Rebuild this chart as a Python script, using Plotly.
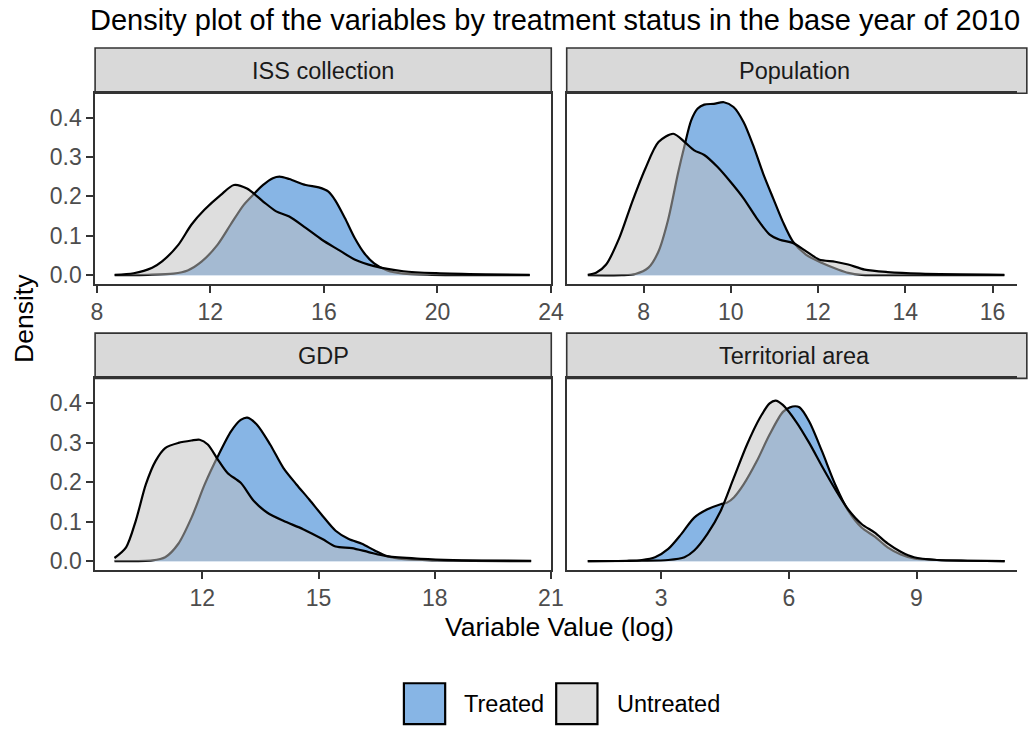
import plotly.graph_objects as go

W, H = 1030, 733

# ---------------- data ----------------
panels = ["ISS collection", "Population", "GDP", "Territorial area"]

iss_treated_x = [8.63, 9.8, 10.7, 11.2, 11.7, 12.25, 12.71, 13.17, 13.52, 13.86, 14.2, 14.44, 14.78, 15.36, 15.82, 16.16, 16.4, 16.74, 17.08, 17.43, 17.77, 18.23, 18.8, 19.8, 21.0, 23.25]
iss_treated_y = [0.0, 0.001, 0.004, 0.012, 0.035, 0.077, 0.128, 0.178, 0.205, 0.229, 0.246, 0.250, 0.244, 0.229, 0.223, 0.212, 0.19, 0.145, 0.095, 0.055, 0.03, 0.012, 0.004, 0.001, 0.0, 0.0]
iss_untreated_x = [8.63, 9.3, 9.95, 10.3, 10.87, 11.33, 11.79, 12.37, 12.83, 13.29, 13.86, 14.32, 14.78, 15.36, 15.93, 16.5, 17.08, 17.77, 18.8, 19.95, 21.7, 23.25]
iss_untreated_y = [0.001, 0.005, 0.019, 0.035, 0.077, 0.128, 0.166, 0.204, 0.229, 0.22, 0.187, 0.162, 0.149, 0.12, 0.09, 0.065, 0.04, 0.023, 0.01, 0.005, 0.002, 0.001]

pop_treated_x = [6.72, 7.5, 7.81, 8.11, 8.34, 8.56, 8.79, 8.94, 9.09, 9.24, 9.39, 9.61, 9.84, 10.06, 10.29, 10.51, 10.74, 10.97, 11.19, 11.42, 11.72, 12.09, 12.47, 12.69, 13.0, 14.0, 16.27]
pop_treated_y = [0.0, 0.0, 0.003, 0.019, 0.06, 0.14, 0.26, 0.33, 0.393, 0.423, 0.433, 0.435, 0.439, 0.427, 0.389, 0.33, 0.258, 0.195, 0.136, 0.086, 0.052, 0.031, 0.014, 0.006, 0.001, 0.0, 0.0]
pop_untreated_x = [6.72, 6.91, 7.14, 7.44, 7.74, 8.04, 8.34, 8.68, 8.94, 9.16, 9.39, 9.69, 9.99, 10.29, 10.59, 10.89, 11.12, 11.42, 11.72, 12.02, 12.39, 12.69, 13.07, 13.59, 14.34, 16.27]
pop_untreated_y = [0.001, 0.006, 0.027, 0.094, 0.187, 0.271, 0.338, 0.359, 0.338, 0.317, 0.305, 0.275, 0.237, 0.195, 0.145, 0.103, 0.09, 0.082, 0.061, 0.04, 0.034, 0.027, 0.014, 0.008, 0.004, 0.001]

gdp_treated_x = [9.73, 10.71, 11.04, 11.38, 11.72, 12.06, 12.4, 12.74, 12.99, 13.16, 13.41, 13.75, 14.09, 14.43, 14.76, 15.1, 15.44, 15.78, 16.12, 16.45, 16.79, 17.22, 18.06, 20.49]
gdp_treated_y = [0.0, 0.002, 0.01, 0.044, 0.11, 0.194, 0.265, 0.328, 0.357, 0.363, 0.345, 0.295, 0.236, 0.194, 0.156, 0.115, 0.077, 0.056, 0.044, 0.027, 0.012, 0.005, 0.002, 0.0]
gdp_untreated_x = [9.73, 10.03, 10.28, 10.54, 10.79, 11.04, 11.38, 11.72, 11.93, 12.14, 12.4, 12.65, 12.99, 13.33, 13.67, 14.09, 14.6, 15.1, 15.44, 15.86, 16.29, 16.79, 17.64, 18.48, 20.49]
gdp_untreated_y = [0.008, 0.035, 0.102, 0.194, 0.253, 0.286, 0.299, 0.305, 0.307, 0.295, 0.257, 0.223, 0.198, 0.152, 0.123, 0.102, 0.081, 0.056, 0.037, 0.033, 0.023, 0.012, 0.006, 0.003, 0.001]

area_treated_x = [1.28, 2.2, 2.55, 2.86, 3.17, 3.48, 3.78, 4.09, 4.4, 4.55, 4.71, 4.94, 5.25, 5.55, 5.87, 6.09, 6.25, 6.48, 6.78, 7.09, 7.4, 7.71, 8.02, 8.32, 8.63, 8.94, 9.48, 10.2, 11.07]
area_treated_y = [0.0, 0.001, 0.003, 0.01, 0.031, 0.069, 0.11, 0.131, 0.144, 0.148, 0.161, 0.194, 0.253, 0.32, 0.378, 0.391, 0.389, 0.353, 0.278, 0.194, 0.127, 0.085, 0.062, 0.035, 0.017, 0.007, 0.003, 0.001, 0.0]
area_untreated_x = [1.28, 2.55, 3.17, 3.55, 3.78, 4.09, 4.4, 4.71, 5.02, 5.32, 5.55, 5.69, 5.86, 6.17, 6.48, 6.78, 7.09, 7.4, 7.71, 8.02, 8.32, 8.63, 8.94, 9.48, 10.2, 11.07]
area_untreated_y = [0.0, 0.001, 0.003, 0.01, 0.027, 0.069, 0.127, 0.211, 0.295, 0.362, 0.399, 0.406, 0.395, 0.353, 0.299, 0.24, 0.182, 0.13, 0.094, 0.072, 0.045, 0.024, 0.01, 0.003, 0.001, 0.0]

x_ticks = [[8, 12, 16, 20, 24], [8, 10, 12, 14, 16], [12, 15, 18, 21], [3, 6, 9]]
y_ticks = [0.0, 0.1, 0.2, 0.3, 0.4]
y_tick_text = ["0.0", "0.1", "0.2", "0.3", "0.4"]

series = [
    (iss_treated_x, iss_treated_y, iss_untreated_x, iss_untreated_y),
    (pop_treated_x, pop_treated_y, pop_untreated_x, pop_untreated_y),
    (gdp_treated_x, gdp_treated_y, gdp_untreated_x, gdp_untreated_y),
    (area_treated_x, area_treated_y, area_untreated_x, area_untreated_y),
]

# ---------------- styling / layout ----------------
FONT = "Liberation Sans, Arial, sans-serif"
TREATED_FILL = "rgb(135,181,229)"
UNTREATED_FILL = "rgba(191,191,191,0.52)"
x_ranges = [[7.94, 24.01], [6.236, 16.56], [9.23, 21.01], [0.785, 11.36]]
y_range = [-0.022, 0.462]

# panel pixel boxes: (left, right, top, bottom)
boxes = [
    (91.7, 556.0, 93.7, 285.4),
    (571.7, 1030.0, 93.7, 285.4),
    (91.7, 556.0, 380.5, 573.0),
    (571.7, 1030.0, 380.5, 573.0),
]
strip_h = 45.5
TICK_SIZE = 23


def px(x):
    return x / W


def py(y):
    return 1 - y / H


fig = go.Figure()
layout = {}
shapes = []
annotations = []

for i, (tx, ty, ux, uy) in enumerate(series):
    n = "" if i == 0 else str(i + 1)
    xa, ya = "x" + n, "y" + n
    fig.add_trace(go.Scatter(x=tx, y=ty, xaxis=xa, yaxis=ya, mode="lines",
                             line=dict(color="black", width=2.2, shape="spline", smoothing=0.8),
                             fill="tozeroy", fillcolor=TREATED_FILL, showlegend=False,
                             name="Treated"))
    fig.add_trace(go.Scatter(x=ux, y=uy, xaxis=xa, yaxis=ya, mode="lines",
                             line=dict(color="black", width=2.2, shape="spline", smoothing=0.8),
                             fill="tozeroy", fillcolor=UNTREATED_FILL, showlegend=False,
                             name="Untreated"))
    l, r, t, b = boxes[i]
    left_col = i in (0, 2)
    layout["xaxis" + n] = dict(
        domain=[px(l), px(r)], range=x_ranges[i], anchor=ya,
        tickvals=x_ticks[i], ticktext=[str(v) for v in x_ticks[i]],
        showgrid=False, zeroline=False, showline=True, linecolor="#333333", linewidth=1.6,
        mirror=True, ticks="outside", ticklen=7, tickwidth=1.6, tickcolor="#333333",
        tickfont=dict(family=FONT, size=TICK_SIZE, color="#4d4d4d"),
    )
    layout["yaxis" + n] = dict(
        domain=[py(b), py(t)], range=y_range, anchor=xa,
        tickvals=y_ticks if left_col else [], ticktext=y_tick_text if left_col else [],
        showticklabels=left_col,
        showgrid=False, zeroline=False, showline=True, linecolor="#333333", linewidth=1.6,
        mirror=left_col, ticks="outside" if left_col else "", ticklen=7, tickwidth=1.6,
        tickcolor="#333333",
        tickfont=dict(family=FONT, size=TICK_SIZE, color="#4d4d4d"),
    )
    # strip
    sr = r if left_col else 1040
    shapes.append(dict(type="rect", xref="paper", yref="paper",
                       x0=px(l), x1=px(sr), y0=py(t), y1=py(t - strip_h),
                       fillcolor="#d9d9d9", line=dict(color="#333333", width=1.6), layer="below"))
    annotations.append(dict(text=panels[i], xref="paper", yref="paper",
                            x=px((l + (r if left_col else 1036)) / 2), y=py(t - strip_h / 2),
                            showarrow=False, xanchor="center", yanchor="middle",
                            font=dict(family=FONT, size=23.5, color="#1a1a1a")))

# axis titles
annotations.append(dict(text="Variable Value (log)", xref="paper", yref="paper",
                        x=px(564), y=py(630), showarrow=False, xanchor="center", yanchor="middle",
                        font=dict(family=FONT, size=26.5, color="black")))
annotations.append(dict(text="Density", xref="paper", yref="paper", textangle=-90,
                        x=px(20), y=py(320), showarrow=False, xanchor="center", yanchor="middle",
                        font=dict(family=FONT, size=26.5, color="black")))

# legend (drawn by hand to match the large ggplot keys)
legend_items = [("Treated", "rgb(135,181,229)", 406, 465), ("Untreated", "rgb(222,222,222)", 561, 621)]
for label, col, kx, tx_ in legend_items:
    shapes.append(dict(type="rect", xref="paper", yref="paper",
                       x0=px(kx), x1=px(kx + 42), y0=py(728), y1=py(687),
                       fillcolor=col, line=dict(color="black", width=2.2)))
    annotations.append(dict(text=label, xref="paper", yref="paper", x=px(tx_), y=py(708),
                            showarrow=False, xanchor="left", yanchor="middle",
                            font=dict(family=FONT, size=23.5, color="black")))

fig.update_layout(
    width=W, height=H, margin=dict(l=0, r=0, t=0, b=0),
    paper_bgcolor="white", plot_bgcolor="white",
    title=dict(text="Density plot of the variables by treatment status in the base year of 2010",
               x=px(90), xanchor="left", y=py(20), yanchor="middle",
               font=dict(family=FONT, size=29, color="black")),
    shapes=shapes, annotations=annotations, showlegend=False,
    **layout,
)

fig.write_html(
    "out.html",
    post_script="document.body.style.margin='0';document.body.style.overflow='hidden';",
)
